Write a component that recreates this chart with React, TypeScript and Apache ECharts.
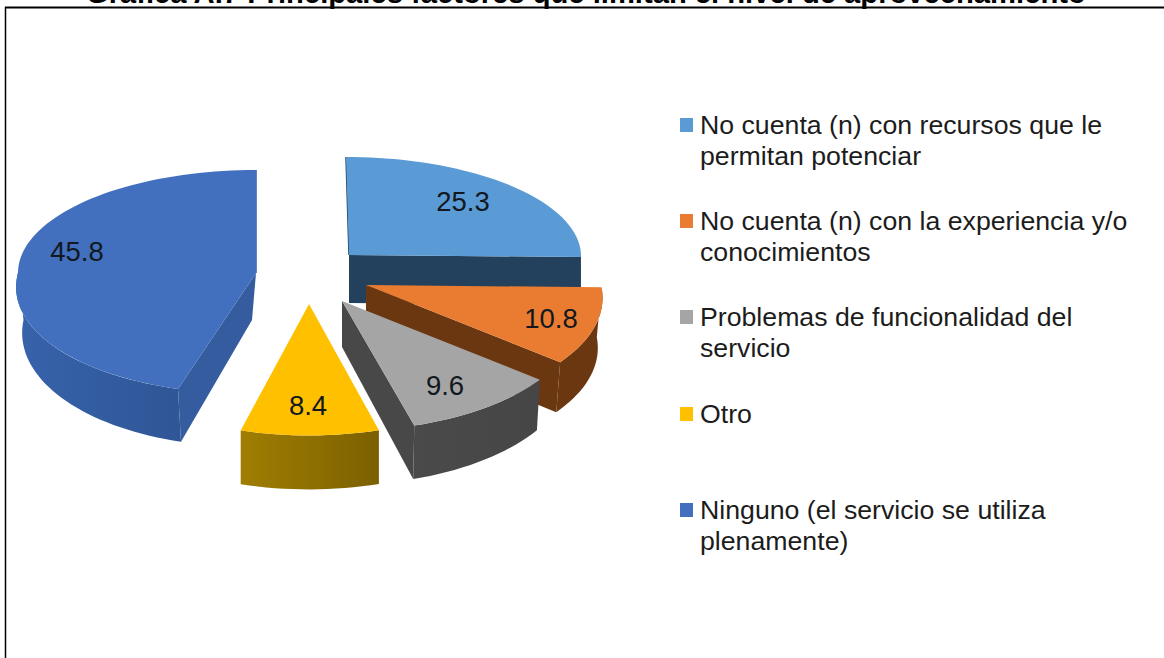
import React, { useEffect, useRef } from "react";
import * as echarts from "echarts";

const titleText = "Gráfica A.7 Principales factores que limitan el nivel de aprovechamiento";
const categories = [
  "No cuenta (n) con recursos que le\npermitan potenciar",
  "No cuenta (n) con la experiencia y/o\nconocimientos",
  "Problemas de funcionalidad del\nservicio",
  "Otro",
  "Ninguno (el servicio se utiliza\nplenamente)",
];
const values = [25.3, 10.8, 9.6, 8.4, 45.8];
const topColors = ["#5b9bd5", "#e97c30", "#a5a5a5", "#ffc000", "#4270bf"];

// Exploded-perspective layout of each slice (not data): apex, radii, perspective and extrusion.
const sliceLayout = [
  { cx: 349, cy: 255, rx: 232, ry: 98, ryB: 98, k: 0, shearF: 0, shearB: 3, depth: 48, dx: 0, bx: 1, by: 1.08, bShear: 0 },
  { cx: 366, cy: 285, rx: 235, ry: 111, ryB: 111, k: 0.115, shearF: 0, shearB: 0, depth: 50, dx: 0, bx: 0.98, by: 1, bShear: 0 },
  { cx: 342, cy: 301, rx: 233, ry: 110, ryB: 110, k: 0.154, shearF: 0, shearB: 0, depth: 46, dx: 0, bx: 0.985, by: 1.06, bShear: 0 },
  { cx: 309, cy: 304, rx: 234, ry: 115.7, ryB: 115.7, k: 0.12, shearF: 0, shearB: 0, depth: 50, dx: 0, bx: 1, by: 1.03, bShear: 0 },
  { cx: 256, cy: 273, rx: 238, ry: 111, ryB: 103, k: 0.0775, shearF: -12, shearB: 0, depth: 47, dx: -4, bx: 0.96, by: 1.05, bShear: 4 },
];
const labelPos = [[463, 201], [551, 318], [445, 385], [308, 405], [77, 251]];
const sideFills = [
  { arc: ["#23405c", "#23405c"], radial: "#23405c" },
  { arc: ["#6b3711", "#6b3711"], radial: "#6b3711" },
  { arc: ["#4a4a4a", "#464646"], radial: "#484848" },
  { arc: ["#a07e02", "#7b6000"], radial: "#7b6000" },
  { arc: ["#3763ab", "#2f5696"], radial: "#345c9f" },
];
const legendCenters = [125, 221, 317, 414, 510];

function project(g: any, deg: number, bottom: boolean): number[] {
  const t = (deg * Math.PI) / 180;
  const s = Math.sin(t);
  const c = Math.cos(t);
  const f = s > 0 ? 1 / (1 - g.k * s) : 1;
  const x = g.rx * c * f + g.shearF * Math.max(0, s) + g.shearB * Math.min(0, s);
  const y = (s > 0 ? g.ry : g.ryB) * s * f;
  if (bottom) {
    return [g.cx + g.dx + x * g.bx + g.bShear * Math.max(0, s), g.cy + g.depth + y * g.by];
  }
  return [g.cx + x, g.cy + y];
}

function arcPoints(g: any, a0: number, a1: number, bottom: boolean): number[][] {
  const n = Math.max(2, Math.ceil(Math.abs(a1 - a0) / 2));
  const pts: number[][] = [];
  for (let i = 0; i <= n; i++) pts.push(project(g, a0 + ((a1 - a0) * i) / n, bottom));
  return pts;
}

const total = values.reduce((a, b) => a + b, 0);

function renderSlice(params: any, api: any) {
  const i = params.dataIndex;
  const v = api.value(0);
  let before = 0;
  for (let j = 0; j < i; j++) before += values[j];
  const a0 = -90 + (before / total) * 360;
  const a1 = a0 + (v / total) * 360;
  const g = sliceLayout[i];
  const apexTop = [g.cx, g.cy];
  const apexBottom = [g.cx + g.dx, g.cy + g.depth];
  const side = sideFills[i];
  const children: any[] = [];

  // Radial wall facing the viewer
  const wallAngle = i === 3 ? null : i === 4 ? a0 : a1;
  if (wallAngle !== null) {
    children.push({
      type: "polygon",
      shape: { points: [apexTop, project(g, wallAngle, false), project(g, wallAngle, true), apexBottom] },
      style: { fill: side.radial },
    });
  }
  // Rim wall of the visible part of the arc
  const v0 = Math.max(a0, 0);
  const v1 = Math.min(a1, 180);
  if (v1 > v0 && i !== 0) {
    const pts = arcPoints(g, v0, v1, false).concat(arcPoints(g, v1, v0, true));
    children.push({
      type: "polygon",
      shape: { points: pts },
      style: {
        fill: new echarts.graphic.LinearGradient(0, 0, 1, 0, [
          { offset: 0, color: side.arc[0] },
          { offset: 1, color: side.arc[1] },
        ]),
      },
    });
  }
  // Thin far edge of the two slices whose back wall shows
  if (i === 0 || i === 4) {
    children.push({
      type: "polyline",
      shape: { points: [apexTop, project(g, i === 0 ? a0 : a1, false)] },
      style: { stroke: side.radial, lineWidth: 1.5, fill: "none" },
    });
  }
  // Top face
  children.push({
    type: "polygon",
    shape: { points: [apexTop].concat(arcPoints(g, a0, a1, false)) },
    style: { fill: topColors[i] },
  });
  // Value label
  children.push({
    type: "text",
    style: {
      text: v.toFixed(1),
      x: labelPos[i][0],
      y: labelPos[i][1],
      fill: "#111820",
      font: "27.5px 'Liberation Sans', Arial, sans-serif",
      align: "center",
      verticalAlign: "middle",
    },
  });
  return { type: "group", children };
}

export default function App() {
  const ref = useRef<HTMLDivElement>(null);
  useEffect(() => {
    const chart = echarts.init(ref.current!, null, { renderer: "svg" });
    const legendGraphics: any[] = [];
    categories.forEach((name, i) => {
      legendGraphics.push({
        type: "rect",
        shape: { x: 680, y: legendCenters[i] - 7, width: 13, height: 14 },
        style: { fill: topColors[i] },
      });
      legendGraphics.push({
        type: "text",
        x: 700,
        y: legendCenters[i] - 15.5,
        style: {
          text: name,
          font: "26.7px 'Liberation Sans', Arial, sans-serif",
          lineHeight: 31,
          fill: "#1c1c1c",
          align: "left",
          verticalAlign: "top",
        },
      });
    });
    chart.setOption({
      animation: false,
      backgroundColor: "#ffffff",
      title: {
        text: titleText,
        left: 86,
        top: -22,
        padding: 0,
        textStyle: {
          fontFamily: "'Liberation Sans', Arial, sans-serif",
          fontWeight: "bold",
          fontSize: 29.2,
          color: "#000000",
        },
      },
      graphic: [
        { type: "line", shape: { x1: 5, y1: 7.5, x2: 1164, y2: 7.5 }, style: { stroke: "#000", lineWidth: 2 } },
        { type: "line", shape: { x1: 5.5, y1: 7, x2: 5.5, y2: 658 }, style: { stroke: "#000", lineWidth: 1.5 } },
        ...legendGraphics,
      ],
      series: [
        {
          type: "custom",
          coordinateSystem: "none",
          renderItem: renderSlice,
          data: values.map((v, i) => ({ name: categories[i], value: [v] })),
          silent: true,
        },
      ],
    });
    return () => chart.dispose();
  }, []);
  return <div ref={ref} style={{ position: "absolute", left: 0, top: 0, width: 1164, height: 658 }} />;
}
